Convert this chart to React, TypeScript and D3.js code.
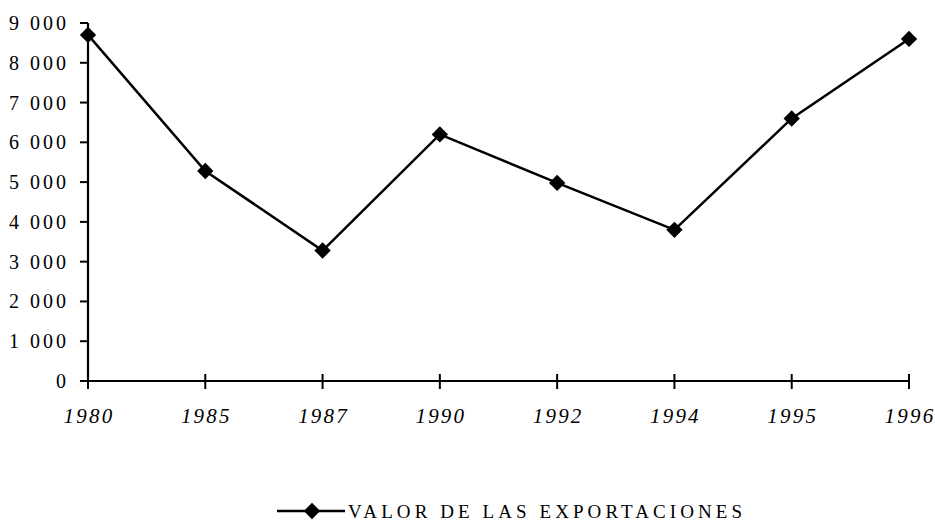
import { useEffect, useRef } from 'react';
import * as d3 from 'd3';

const years = ['1980', '1985', '1987', '1990', '1992', '1994', '1995', '1996'];
const exportValues = [8700, 5280, 3280, 6200, 4980, 3800, 6600, 8600];
const yTicks = [0, 1000, 2000, 3000, 4000, 5000, 6000, 7000, 8000, 9000];
const seriesName = 'VALOR DE LAS EXPORTACIONES';

const font = '"Liberation Serif", "Times New Roman", serif';

export default function App() {
    const ref = useRef<SVGSVGElement>(null);

    useEffect(() => {
        if (!ref.current) return;
        const svg = d3.select(ref.current);
        svg.selectAll('*').remove();

        const width = 935;
        const height = 524;
        const left = 88;
        const right = 909;
        const top = 23;
        const bottom = 381;

        svg.attr('width', width).attr('height', height);

        const x = d3.scalePoint<string>().domain(years).range([left, right]);
        const y = d3.scaleLinear().domain([0, 9000]).range([bottom, top]);

        const fmt = (v: number) => d3.format(',')(v).replace(/,/g, ' ');

        // y axis
        svg.append('line')
            .attr('x1', left).attr('x2', left)
            .attr('y1', top).attr('y2', bottom)
            .attr('stroke', '#000').attr('stroke-width', 2.2);

        const yg = svg.append('g');
        yTicks.forEach((t) => {
            yg.append('line')
                .attr('x1', left - 8).attr('x2', left)
                .attr('y1', y(t)).attr('y2', y(t))
                .attr('stroke', '#000').attr('stroke-width', 2);
            yg.append('text')
                .attr('x', left - 19)
                .attr('y', y(t))
                .attr('dy', '0.35em')
                .attr('text-anchor', 'end')
                .attr('font-family', font)
                .attr('font-size', 20)
                .attr('letter-spacing', 3)
                .attr('fill', '#000')
                .text(fmt(t));
        });

        // x axis
        svg.append('line')
            .attr('x1', left).attr('x2', right)
            .attr('y1', bottom).attr('y2', bottom)
            .attr('stroke', '#000').attr('stroke-width', 2.2);

        const xg = svg.append('g');
        years.forEach((yr) => {
            xg.append('line')
                .attr('x1', x(yr)!).attr('x2', x(yr)!)
                .attr('y1', bottom - 7).attr('y2', bottom + 8)
                .attr('stroke', '#000').attr('stroke-width', 2);
            xg.append('text')
                .attr('x', x(yr)! + 1)
                .attr('y', bottom + 42)
                .attr('text-anchor', 'middle')
                .attr('font-family', font)
                .attr('font-style', 'italic')
                .attr('font-size', 21)
                .attr('letter-spacing', 2.2)
                .attr('fill', '#000')
                .text(yr);
        });

        // line
        const pts = years.map((yr, i) => [x(yr)!, y(exportValues[i])] as [number, number]);
        svg.append('path')
            .attr('d', d3.line()(pts)!)
            .attr('fill', 'none')
            .attr('stroke', '#000')
            .attr('stroke-width', 2.5);

        const diamond = d3.symbol().type(d3.symbolDiamond2).size(170);
        svg.append('g')
            .selectAll('path')
            .data(pts)
            .join('path')
            .attr('d', diamond()!)
            .attr('transform', (d) => `translate(${d[0]},${d[1]})`)
            .attr('fill', '#000');

        // legend
        const ly = 511;
        svg.append('line')
            .attr('x1', 277).attr('x2', 345)
            .attr('y1', ly).attr('y2', ly)
            .attr('stroke', '#000').attr('stroke-width', 2.5);
        svg.append('path')
            .attr('d', diamond()!)
            .attr('transform', `translate(312,${ly})`)
            .attr('fill', '#000');
        svg.append('text')
            .attr('x', 348)
            .attr('y', 518)
            .attr('font-family', font)
            .attr('font-size', 19)
            .attr('textLength', 394)
            .attr('lengthAdjust', 'spacing')
            .attr('fill', '#000')
            .text(seriesName);
    }, []);

    return <svg ref={ref} style={{ position: 'absolute', left: 0, top: 0 }} />;
}
